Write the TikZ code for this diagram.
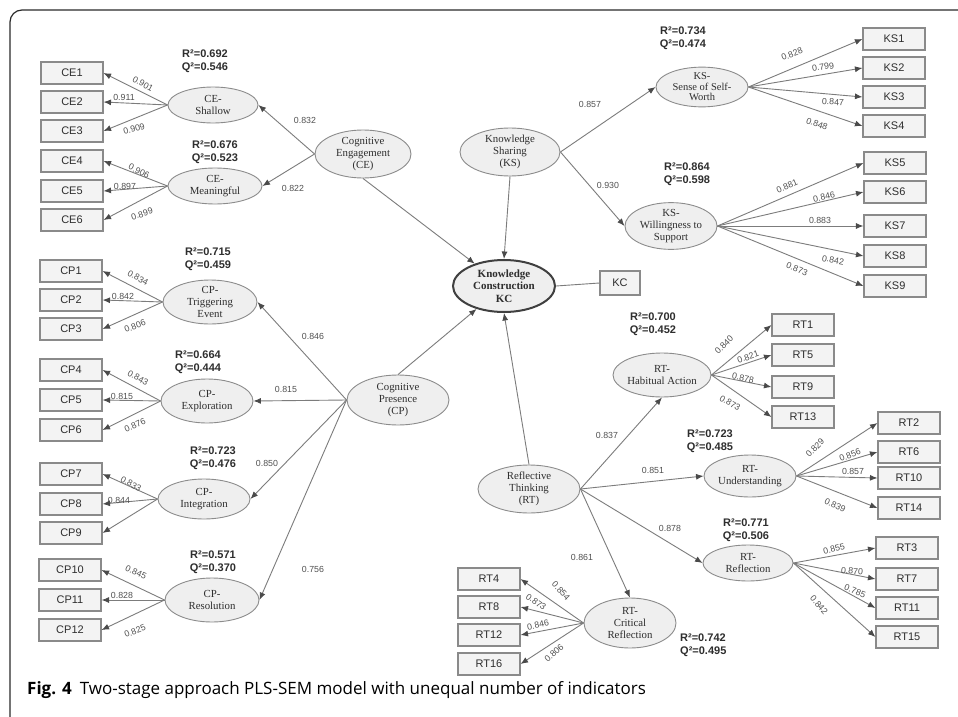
\documentclass[tikz,border=0pt]{standalone}
\usepackage{fontspec}
\setmainfont{Liberation Serif}
\setsansfont{Liberation Sans}
\newfontfamily\capfont{Open Sans}
\usetikzlibrary{shapes.geometric,arrows.meta}

\definecolor{lnc}{HTML}{7C7C7C}
\definecolor{tipc}{HTML}{4A4A4A}
\definecolor{ellfill}{HTML}{EFEFEF}
\definecolor{elldraw}{HTML}{8C8C8C}
\definecolor{boxfill}{HTML}{F3F3F3}
\definecolor{boxdraw}{HTML}{8A8A8A}
\definecolor{txt}{HTML}{2E2E2E}
\definecolor{ldc}{HTML}{505050}
\definecolor{framec}{HTML}{2A2A2A}

\begin{document}
\begin{tikzpicture}[x=1pt,y=-1pt,
  lat/.style={ellipse, draw=elldraw, fill=ellfill, line width=0.9pt, inner sep=0pt,
    align=center, text=txt, font=\fontsize{10.8}{11.8}\selectfont},
  ind/.style={rectangle, draw=boxdraw, fill=boxfill, line width=1.1pt,
    minimum width=62pt, minimum height=22pt, inner sep=0pt, text=txt,
    font=\sffamily\fontsize{11}{12}\selectfont},
  ld/.style={font=\sffamily\fontsize{8.8}{10}\selectfont, text=ldc, inner sep=0pt},
  rq/.style={font=\sffamily\bfseries\fontsize{11}{13}\selectfont, align=center,
    text=txt, inner sep=0pt},
  ar/.style={draw=lnc, line width=0.9pt, -{Latex[length=7.5pt,width=6pt,color=tipc]}},
  pl/.style={draw=lnc, line width=0.9pt}
]
\useasboundingbox (0,0) rectangle (958,717);
\fill[white] (0,0) rectangle (958,717);

% page frame
\draw[framec, line width=1.2pt, rounded corners=12pt] (10,717) -- (10,10) -- (958,10);

% ---------- latent variables ----------
\node[lat, minimum width=90pt, minimum height=36pt] (ceS) at (213,105) {CE-\\Shallow};
\node[lat, minimum width=94pt, minimum height=36pt] (ceM) at (215,186) {CE-\\Meaningful};
\node[lat, minimum width=96pt, minimum height=48pt] (ce) at (363,154) {Cognitive\\Engagement\\(CE)};

\node[lat, minimum width=94pt, minimum height=44pt] (cpT) at (210,302) {CP-\\Triggering\\Event};
\node[lat, minimum width=92pt, minimum height=44pt] (cpE) at (207,401) {CP-\\Exploration};
\node[lat, minimum width=92pt, minimum height=40pt] (cpI) at (204,499) {CP-\\Integration};
\node[lat, minimum width=94pt, minimum height=44pt] (cpR) at (212,600) {CP-\\Resolution};
\node[lat, minimum width=102pt, minimum height=50pt] (cp) at (398,400) {Cognitive\\Presence\\(CP)};

\node[lat, minimum width=102pt, minimum height=52pt, draw=black!75, line width=2pt,
  font=\bfseries\fontsize{11}{12.5}\selectfont] (kc) at (504,286) {Knowledge\\Construction\\KC};
\node[ind, minimum width=40pt, minimum height=24pt] (kcb) at (620,283) {KC};

\node[lat, minimum width=100pt, minimum height=48pt] (ks) at (510,152) {Knowledge\\Sharing\\(KS)};
\node[lat, minimum width=92pt, minimum height=38pt, font=\fontsize{10.5}{10.5}\selectfont] (ksS) at (702,87) {KS-\\Sense of Self-\\Worth};
\node[lat, minimum width=92pt, minimum height=46pt] (ksW) at (671,226) {KS-\\Willingness to\\Support};

\node[lat, minimum width=102pt, minimum height=48pt] (rt) at (529,489) {Reflective\\Thinking\\(RT)};
\node[lat, minimum width=92pt, minimum height=44pt] (rtH) at (662,375) {RT-\\Habitual Action};
\node[lat, minimum width=92pt, minimum height=42pt] (rtU) at (750,476) {RT-\\Understanding};
\node[lat, minimum width=90pt, minimum height=36pt] (rtR) at (748,563) {RT-\\Reflection};
\node[lat, minimum width=92pt, minimum height=50pt] (rtC) at (630,623) {RT-\\Critical\\Reflection};

% ---------- indicators ----------
\foreach \n/\y in {1/73,2/102,3/131,4/161,5/191,6/220}
  \node[ind] (ce\n) at (72,\y) {CE\n};
\foreach \n/\y in {1/271,2/300,3/329,4/370,5/400,6/430,7/474,8/504,9/533}
  \node[ind] (cp\n) at (71,\y) {CP\n};
\foreach \n/\y in {10/570,11/600,12/630}
  \node[ind] (cp\n) at (70,\y) {CP\n};
\foreach \n/\y in {1/39,2/68,3/97,4/126}
  \node[ind] (ks\n) at (894,\y) {KS\n};
\foreach \n/\y in {5/163,6/192,7/226,8/256,9/286}
  \node[ind] (ks\n) at (895,\y) {KS\n};
\foreach \n/\y in {1/325,5/355,9/387,13/417}
  \node[ind] (rt\n) at (803,\y) {RT\n};
\foreach \n/\y in {2/423,6/452,10/478,14/508}
  \node[ind] (rt\n) at (909,\y) {RT\n};
\foreach \n/\y in {3/548,7/579,11/608,15/637}
  \node[ind] (rt\n) at (907,\y) {RT\n};
\foreach \n/\y in {4/579,8/607,12/635,16/664}
  \node[ind] (rt\n) at (489,\y) {RT\n};

% ---------- measurement paths ----------
\foreach \n in {1,2,3} \draw[ar] (ceS.west) -- (ce\n.east);
\foreach \n in {4,5,6} \draw[ar] (ceM.west) -- (ce\n.east);
\foreach \n in {1,2,3} \draw[ar] (cpT.west) -- (cp\n.east);
\foreach \n in {4,5,6} \draw[ar] (cpE.west) -- (cp\n.east);
\foreach \n in {7,8,9} \draw[ar] (cpI.west) -- (cp\n.east);
\foreach \n in {10,11,12} \draw[ar] (cpR.west) -- (cp\n.east);
\foreach \n in {1,2,3,4} \draw[ar] (ksS.east) -- (ks\n.west);
\foreach \n in {5,6,7,8,9} \draw[ar] (ksW.east) -- (ks\n.west);
\foreach \n in {1,5,9,13} \draw[ar] (rtH.east) -- (rt\n.west);
\foreach \n in {2,6,10,14} \draw[ar] (rtU.east) -- (rt\n.west);
\foreach \n in {3,7,11,15} \draw[ar] (rtR.east) -- (rt\n.west);
\foreach \n in {4,8,12,16} \draw[ar] (rtC.west) -- (rt\n.east);
\draw[pl] (kc.east) -- (kcb.west);

% ---------- structural paths ----------
\draw[ar] (ce.west) -- (ceS.east);
\draw[ar] (ce.west) -- (ceM.east);
\draw[ar] (cp.west) -- (cpT.east);
\draw[ar] (cp.west) -- (cpE.east);
\draw[ar] (cp.west) -- (cpI.east);
\draw[ar] (cp.west) -- (cpR.east);
\draw[ar] (ks.east) -- (ksS.west);
\draw[ar] (ks.east) -- (ksW.west);
\draw[ar] (rt.east) -- (rtH.south);
\draw[ar] (rt.east) -- (rtU.west);
\draw[ar] (rt.east) -- (rtR.west);
\draw[ar] (rt.east) -- (rtC.north);
\draw[ar] (ce.south) -- (kc);
\draw[ar] (ks.south) -- (kc.north);
\draw[ar] (cp.north) -- (kc);
\draw[ar] (rt.north) -- (kc.south);

% ---------- loadings ----------
\node[ld, rotate=-28] (l01) at (143,84) {0.901};
\node[ld] (l02) at (124,97) {0.911};
\node[ld, rotate=16] (l03) at (134,129) {0.909};
\node[ld, rotate=-26] (l04) at (139,171) {0.906};
\node[ld] (l05) at (125,186) {0.897};
\node[ld, rotate=18] (l06) at (142,214) {0.899};

\node[ld, rotate=-28] (l07) at (138,278) {0.834};
\node[ld] (l08) at (123,296) {0.842};
\node[ld, rotate=22] (l09) at (135,326) {0.806};
\node[ld, rotate=-28] (l10) at (138,378) {0.843};
\node[ld] (l11) at (122,396) {0.815};
\node[ld, rotate=24] (l12) at (135,425) {0.876};
\node[ld, rotate=-28] (l13) at (131,484) {0.833};
\node[ld] (l14) at (119,500) {0.844};
\node[ld, rotate=-25] (l15) at (136,572) {0.845};
\node[ld] (l16) at (122,595) {0.828};
\node[ld, rotate=22] (l17) at (135,631) {0.825};

\node[ld] (s01) at (305,120) {0.832};
\node[ld] (s02) at (293,188) {0.822};
\node[ld] (s03) at (313,336) {0.846};
\node[ld] (s04) at (286,389) {0.815};
\node[ld] (s05) at (267,463) {0.850};
\node[ld] (s06) at (313,569) {0.756};
\node[ld] (s07) at (590,104) {0.857};
\node[ld] (s08) at (608,185) {0.930};
\node[ld] (s09) at (607,435) {0.837};
\node[ld] (s10) at (653,470) {0.851};
\node[ld] (s11) at (670,528) {0.878};
\node[ld] (s12) at (582,557) {0.861};

\node[ld, rotate=22] (k01) at (792,54) {0.828};
\node[ld, rotate=9] (k02) at (823,67) {0.799};
\node[ld, rotate=-3] (k03) at (833,102) {0.847};
\node[ld, rotate=-20] (k04) at (817,124) {0.848};
\node[ld, rotate=24] (k05) at (787,186) {0.881};
\node[ld, rotate=12] (k06) at (824,197) {0.846};
\node[ld] (k07) at (820,220) {0.883};
\node[ld, rotate=-10] (k08) at (833,260) {0.842};
\node[ld, rotate=-22] (k09) at (797,269) {0.873};

\node[ld, rotate=45] (r01) at (724,345) {0.840};
\node[ld, rotate=20] (r02) at (748,357) {0.821};
\node[ld, rotate=-12] (r03) at (743,378) {0.878};
\node[ld, rotate=-30] (r04) at (730,403) {0.873};
\node[ld, rotate=45] (r05) at (815,448) {0.829};
\node[ld, rotate=22] (r06) at (850,455) {0.856};
\node[ld] (r07) at (853,471) {0.857};
\node[ld, rotate=-25] (r08) at (835,505) {0.839};
\node[ld, rotate=14] (r09) at (834,549) {0.855};
\node[ld, rotate=-5] (r10) at (852,571) {0.870};
\node[ld, rotate=-22] (r11) at (855,591) {0.785};
\node[ld, rotate=-50] (r12) at (819,605) {0.842};
\node[ld, rotate=-48] (r13) at (561,591) {0.854};
\node[ld, rotate=-35] (r14) at (536,602) {0.873};
\node[ld, rotate=12] (r15) at (538,625) {0.846};
\node[ld, rotate=42] (r16) at (554,653) {0.806};

% ---------- R² / Q² ----------
\node[rq] (q01) at (205,61.5) {R²=0.692\\Q²=0.546};
\node[rq] (q02) at (215,152.5) {R²=0.676\\Q²=0.523};
\node[rq] (q03) at (208,259.5) {R²=0.715\\Q²=0.459};
\node[rq] (q04) at (198,362) {R²=0.664\\Q²=0.444};
\node[rq] (q05) at (213,458.5) {R²=0.723\\Q²=0.476};
\node[rq] (q06) at (213,562) {R²=0.571\\Q²=0.370};
\node[rq] (q07) at (683,38.5) {R²=0.734\\Q²=0.474};
\node[rq] (q08) at (687,174.5) {R²=0.864\\Q²=0.598};
\node[rq] (q09) at (653,324.5) {R²=0.700\\Q²=0.452};
\node[rq] (q10) at (710,441.5) {R²=0.723\\Q²=0.485};
\node[rq] (q11) at (746,530.5) {R²=0.771\\Q²=0.506};
\node[rq, anchor=west, align=left] (q12) at (680,645) {R²=0.742\\Q²=0.495};

% ---------- caption ----------
\node[anchor=base west, inner sep=0pt, text=black, font=\capfont\fontsize{17}{20}\selectfont]
  (cap) at (27,694) {{\bfseries Fig. 4}\hspace{8pt}Two-stage approach PLS-SEM model with unequal number of indicators};
\end{tikzpicture}
\end{document}
